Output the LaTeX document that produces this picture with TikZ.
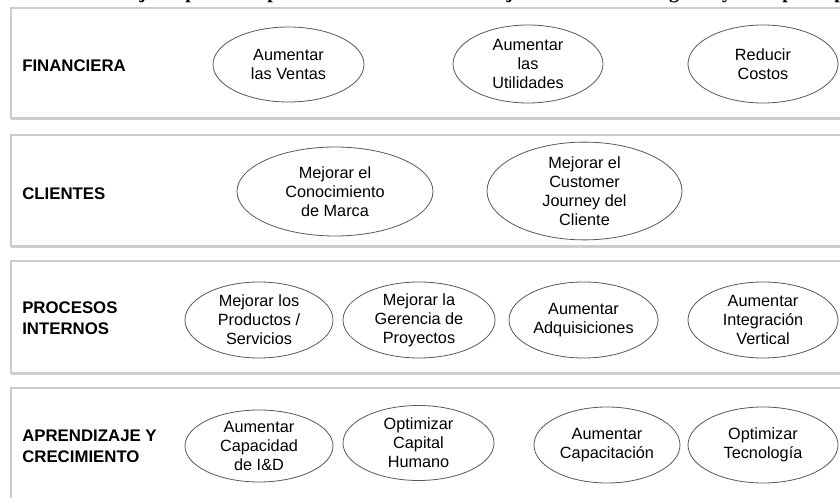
\documentclass[tikz,border=0pt]{standalone}
\usepackage{fontspec}
\setmainfont{Liberation Sans}
\newfontfamily\titlefont{Liberation Serif}
\usetikzlibrary{shapes.geometric,shadows}
\tikzset{
  band/.style={draw=black!20, fill=white, line width=0.8pt,
    drop shadow={shadow xshift=0pt, shadow yshift=-1.3pt, opacity=0.35, fill=black!55}},
  goal/.style 2 args={ellipse, draw=black!65, line width=0.6pt, fill=white,
    align=center, inner sep=0pt, font=\fontsize{12.2}{14.3}\selectfont,
    minimum width=#1*0.75pt, minimum height=#2*0.75pt},
  persp/.style={anchor=west, align=left, inner sep=0pt,
    font=\bfseries\fontsize{12.6}{16}\selectfont},
  tglyph/.style={anchor=base, inner sep=0pt,
    font=\titlefont\bfseries\fontsize{15}{15}\selectfont}
}
\begin{document}
\begin{tikzpicture}[x=0.75pt,y=-0.75pt]
\useasboundingbox (0,0) rectangle (840,498);
\clip (0,0) rectangle (840,498);

% cut-off title (only descenders visible)
\begin{scope}
\clip (0,0) rectangle (840,7);
\node[tglyph] (t1) at (143,-1) {j};
\node[tglyph] (t2) at (191,-1) {p};
\node[tglyph] (t3) at (273,-1) {p};
\node[tglyph] (t4) at (510,-1) {j};
\node[tglyph] (t5) at (674,-1) {g};
\node[tglyph] (t6) at (727,-1) {y};
\node[tglyph] (t7) at (788,-1) {p};
\node[tglyph] (t8) at (840,-1) {p};
\end{scope}

% perspective bands
\path[band] (11,8) rectangle (870,118);
\path[band] (11,135) rectangle (870,246);
\path[band] (11,261) rectangle (870,373);
\path[band] (11,388) rectangle (870,520);

% perspective labels
\node[persp] (l1) at (22,66) {FINANCIERA};
\node[persp] (l2) at (22,194) {CLIENTES};
\node[persp] (l3) at (22,318.5) {PROCESOS\\INTERNOS};
\node[persp] (l4) at (22,446) {APRENDIZAJE Y\\CRECIMIENTO};

% objectives
\node[goal={151}{75}] (e1) at (288.5,64.5) {Aumentar\\las Ventas};
\node[goal={150}{78}] (e2) at (528,64) {Aumentar\\las\\Utilidades};
\node[goal={150}{78}] (e3) at (763,64) {Reducir\\Costos};

\node[goal={196}{89}] (e4) at (335,191.5) {Mejorar el\\Conocimiento\\de Marca};
\node[goal={195}{90}] (e5) at (584.5,191) {Mejorar el\\Customer\\Journey del\\Cliente};

\node[goal={148}{76}] (e6) at (259,320) {Mejorar los\\Productos /\\Servicios};
\node[goal={152}{76}] (e7) at (419,320) {Mejorar la\\Gerencia de\\Proyectos};
\node[goal={149}{76}] (e8) at (583.5,320) {Aumentar\\Adquisiciones};
\node[goal={150}{76}] (e9) at (763,320) {Aumentar\\Integración\\Vertical};

\node[goal={148}{72}] (e10) at (259,446) {Aumentar\\Capacidad\\de I\&D};
\node[goal={151}{75}] (e11) at (418.5,443) {Optimizar\\Capital\\Humano};
\node[goal={146}{76}] (e12) at (607,445) {Aumentar\\Capacitación};
\node[goal={150}{76}] (e13) at (763,445) {Optimizar\\Tecnología};
\end{tikzpicture}
\end{document}
